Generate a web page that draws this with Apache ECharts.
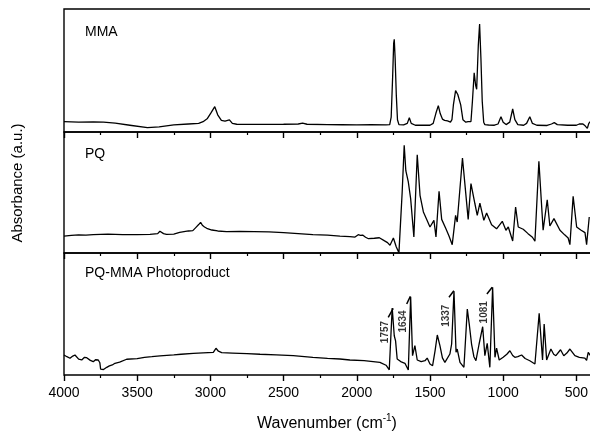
<!DOCTYPE html>
<html>
<head>
<meta charset="utf-8">
<script src="https://cdn.jsdelivr.net/npm/echarts@6/dist/echarts.min.js"></script>
<style>html,body{margin:0;padding:0;background:#fff}#c{width:590px;height:433px}</style>
</head>
<body>
<div id="c"></div>
<script>
// [wavenumber (cm^-1), absorbance (a.u., 0-100 per panel)]
const mmaSpectrum = [[4000,8.4],[3900,8.0],[3800,8.3],[3730,8.1],[3650,7.2],[3550,5.5],[3430,3.5],[3350,4.2],[3250,5.8],[3150,6.5],[3080,7.0],[3050,8.4],[3020,11],[2995,15.7],[2985,14.5],[2970,20.6],[2950,14],[2925,9.5],[2900,8.8],[2870,9.8],[2850,7],[2820,6.3],[2700,6.2],[2500,6.3],[2400,6.5],[2370,7.2],[2340,6.3],[2200,6.0],[2100,5.9],[2000,5.8],[1900,6.0],[1800,5.8],[1775,6],[1765,12],[1755,45],[1748,72],[1744,75.4],[1738,60],[1730,30],[1722,10],[1712,6],[1680,5.8],[1655,7],[1641,11.6],[1628,7],[1600,5.5],[1500,5.5],[1478,7],[1460,15],[1443,21.4],[1430,15],[1415,10.5],[1400,9.5],[1380,9],[1360,8],[1350,10],[1340,22],[1325,33.6],[1310,30.5],[1300,29.3],[1290,22],[1275,10],[1255,8],[1240,8.4],[1220,8.5],[1210,25],[1198,48.2],[1188,38],[1181,34.7],[1170,70],[1161,87.8],[1152,60],[1143,25],[1133,8],[1125,6],[1100,5.7],[1060,5.5],[1035,6.5],[1015,12.4],[1000,8],[980,6],[955,8],[935,18.7],[920,10],[900,6],[860,5.5],[840,7],[818,12.4],[800,7],[770,5.5],[700,5.3],[670,6.5],[651,7.6],[630,6],[560,5.5],[500,5.5],[480,6.5],[470,5],[455,6.5],[440,5],[425,3],[415,7],[405,8.5]];

const pqSpectrum = [[4000,14],[3950,14.5],[3900,15],[3850,14.8],[3800,15.2],[3700,15.6],[3600,15.2],[3500,15.2],[3413,15.4],[3360,16],[3345,18],[3333,19],[3320,16],[3300,15.4],[3250,15.6],[3210,17.1],[3150,18.2],[3120,18.5],[3100,21],[3080,23.5],[3067,25.3],[3055,23],[3040,21.5],[3025,20.4],[2990,19],[2950,18.2],[2890,17.6],[2800,17.8],[2700,17.6],[2600,17.4],[2500,16.8],[2400,16],[2300,15.2],[2200,14.8],[2115,14],[2047,13.5],[2012,13.2],[1990,15.1],[1975,14.6],[1960,14.8],[1940,13],[1920,11.8],[1880,12.2],[1846,12.6],[1810,10],[1790,8.6],[1773,6.4],[1750,12.4],[1730,5],[1712,0.3],[1690,50],[1676,89],[1665,68],[1648,58.7],[1632,44.9],[1610,13.2],[1587,81.2],[1568,47.7],[1545,33.9],[1520,27],[1500,21.5],[1473,27],[1459,13.2],[1438,51],[1420,27.8],[1391,20],[1370,14],[1348,6.9],[1325,31.1],[1314,25.6],[1278,78.5],[1239,27.8],[1220,57.3],[1193,40.7],[1177,31.1],[1159,41.3],[1132,27],[1113,33],[1079,23.4],[1045,20],[1006,26.2],[981,18.8],[965,21.5],[935,9.9],[915,38],[897,21.5],[863,19.6],[830,16],[800,13],[783,9.7],[756,75.8],[727,18.8],[699,44],[681,22.3],[653,28.4],[612,18.8],[580,15],[556,12.4],[544,6.9],[522,46.8],[498,21.5],[470,19],[441,16.8],[430,6.9],[412,29.8]];

const photoSpectrum = [[4000,16.4],[3980,15],[3959,13.7],[3940,15.5],[3925,16.4],[3900,13],[3879,12.3],[3860,14.5],[3845,14.2],[3820,12],[3800,10.9],[3785,12.5],[3766,12.3],[3755,10],[3750,4.9],[3730,4.5],[3708,6.3],[3690,7.5],[3670,8.2],[3652,9.6],[3620,10.5],[3572,12.9],[3500,13.5],[3450,14.5],[3400,15],[3344,15.6],[3250,16.5],[3200,17],[3117,17.8],[3050,18.2],[2980,18.6],[2962,21.9],[2945,19.5],[2923,18.3],[2850,18],[2750,17.5],[2661,17],[2550,16.5],[2434,15.8],[2300,14.5],[2200,13.6],[2115,13.1],[2047,12.3],[1950,11.8],[1842,10.4],[1800,8],[1778,4.3],[1758,54.9],[1744,32.2],[1735,28],[1724,13.1],[1700,11],[1671,9.6],[1648,4.1],[1632,64.2],[1619,15.8],[1603,24],[1587,12.3],[1560,11],[1534,11.7],[1519,13.9],[1500,9],[1482,7.6],[1465,20],[1450,32.8],[1432,24],[1415,14],[1398,10.4],[1364,17.2],[1352,25.4],[1336,68.6],[1322,18.6],[1314,21.3],[1295,10.4],[1268,6.3],[1245,54.1],[1230,40],[1216,25.4],[1200,15],[1186,11.7],[1165,25],[1140,39.6],[1125,15.8],[1109,26],[1091,6.3],[1072,71.9],[1056,14.5],[1045,22.1],[1027,12.3],[1000,14.5],[975,17],[954,19.9],[935,16],[920,14.5],[900,15],[874,16.4],[850,13.5],[818,11.7],[783,9],[754,50.6],[731,12.3],[720,41.8],[703,12.3],[674,21.3],[655,17],[640,15.8],[608,20.7],[586,15.8],[565,18],[544,21.3],[510,15.8],[480,14.5],[442,13.9],[430,12],[419,18.6],[405,16]];

const panelNames = ['MMA', 'PQ', 'PQ-MMA Photoproduct'];
const annoLabels = ['1757', '1634', '1337', '1081'];
const annoLabelPos = [[1808,35.2],[1683,43.9],[1391,48.6],[1131,51.4]];
const annoTails = [[1785,47.3],[1659,58.2],[1370,63.7],[1111,66.4]];
const annoTips = [[1751,54.7],[1634,64.5],[1337,69.1],[1075,71.9]];
const xMin = 400, xMax = 4000;

const chart = echarts.init(document.getElementById('c'), null, {renderer: 'canvas'});
const FONT = 'Liberation Sans, Arial, Helvetica, sans-serif';
const grids = [
  {left: 64, top: 9, width: 527, height: 123},
  {left: 64, top: 132, width: 527, height: 121},
  {left: 64, top: 253, width: 527, height: 122}
].map(g => Object.assign(g, {show: true, borderColor: '#000', borderWidth: 1.4, backgroundColor: 'transparent', containLabel: false, outerBoundsMode: 'none'}));

const xAxes = [0, 1, 2].map(i => ({
  type: 'value', gridIndex: i, min: xMin, max: xMax, inverse: true, splitNumber: 7,
  axisLine: {show: false},
  axisTick: {show: true, inside: false, length: 6, lineStyle: {color: '#000', width: 1.4}},
  minorTick: {show: true, splitNumber: 2, length: 3, lineStyle: {color: '#000', width: 1.2}},
  splitLine: {show: false},
  axisLabel: {show: i === 2, showMinLabel: false, color: '#000', fontFamily: FONT, fontSize: 14, margin: 11,
    formatter: v => String(v)}
}));
const yAxes = [0, 1, 2].map(i => ({
  type: 'value', gridIndex: i, min: 0, max: 100, show: false
}));

const lineSeries = [mmaSpectrum, pqSpectrum, photoSpectrum].map((d, i) => ({
  type: 'line', xAxisIndex: i, yAxisIndex: i, data: d, showSymbol: false, symbol: 'none',
  lineStyle: {color: '#000', width: 1.3}, silent: true, animation: false, z: 3
}));
lineSeries[2].markLine = {
  silent: true, animation: false, symbol: ['none', 'arrow'], symbolSize: [0, 8],
  lineStyle: {color: '#000', type: 'solid', width: 1.5},
  label: {show: false},
  data: annoTails.map((t, i) => [{coord: t}, {coord: annoTips[i]}])
};

const annoSeries = {
  type: 'scatter', xAxisIndex: 2, yAxisIndex: 2, symbolSize: 0, silent: true, animation: false,
  data: annoLabelPos.map((p, i) => ({value: p, name: annoLabels[i]})),
  label: {show: true, position: 'inside', rotate: 90, formatter: p => p.name,
    color: '#000', fontFamily: FONT, fontWeight: 'bold', fontSize: 10}
};

const panelLabelY = [32, 154, 273];
const graphics = panelNames.map((n, i) => ({
  type: 'text', x: 85, y: panelLabelY[i],
  style: {text: n, fill: '#000', font: '14px ' + FONT, textAlign: 'left', textVerticalAlign: 'middle', align: 'left', verticalAlign: 'middle'}
}));
graphics.push({
  type: 'text', x: 18, y: 183, rotation: Math.PI / 2,
  style: {text: 'Absorbance (a.u.)', fill: '#000', font: '15px ' + FONT, textAlign: 'center', textVerticalAlign: 'middle', align: 'center', verticalAlign: 'middle'}
});
graphics.push({
  type: 'text', x: 327, y: 424,
  style: {text: 'Wavenumber (cm{sup|-1})', fill: '#000', font: '16px ' + FONT,
    textAlign: 'center', textVerticalAlign: 'middle', align: 'center', verticalAlign: 'middle',
    rich: {sup: {fontSize: 10, fontFamily: FONT, fill: '#000', verticalAlign: 'top', lineHeight: 22}}}
});

chart.setOption({
  animation: false,
  backgroundColor: '#fff',
  grid: grids,
  xAxis: xAxes,
  yAxis: yAxes,
  series: lineSeries.concat([annoSeries]),
  graphic: graphics
});
</script>
</body>
</html>
